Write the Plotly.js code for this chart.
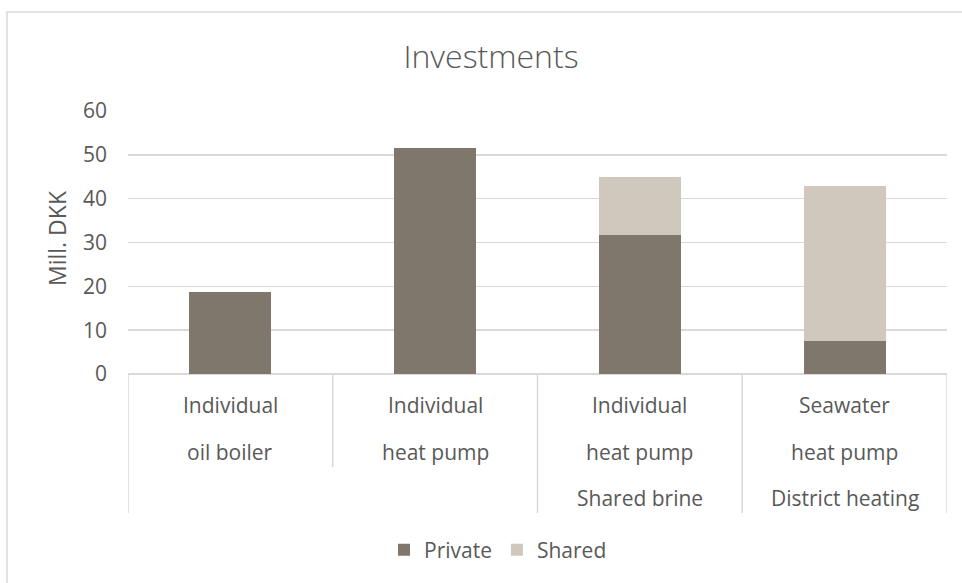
<!DOCTYPE html>
<html>
<head>
<meta charset="utf-8">
<script src="https://cdn.plot.ly/plotly-3.0.1.min.js"></script>
<style>
  html, body { margin: 0; padding: 0; background: #ffffff; }
  #chart { width: 962px; height: 583px; }
</style>
</head>
<body>
<div id="chart"></div>
<script>
// Investment per heating option (million DKK), split into private and shared parts
const categories = ["Individual oil boiler", "Individual heat pump", "Individual heat pump, shared brine", "Seawater heat pump, district heating"];
const privateValues = [18.6, 51.5, 31.7, 7.5];
const sharedValues = [0, 0, 13.3, 35.4];

// Category label rows: inner level (two lines) and outer group level
const labelLine1 = ["Individual", "Individual", "Individual", "Seawater"];
const labelLine2 = ["oil boiler", "heat pump", "heat pump", "heat pump"];
const groupLabels = ["", "", "Shared brine", "District heating"];

const yTicks = [0, 10, 20, 30, 40, 50, 60];

const textColor = "#595959";
const gridColor = "#d9d9d9";
const fontFamily = "'Open Sans', 'Noto Sans', sans-serif";

// plot area geometry (pixels) used to place the decorations below the axis
const W = 962, H = 583;
const M = { l: 128, r: 15, t: 111, b: 209 };
const plotH = H - M.t - M.b;
const plotW = W - M.l - M.r;
const py = px => (H - M.b - px) / plotH;   // pixel row -> paper y
const pxX = px => (px - M.l) / plotW;      // pixel column -> paper x

const traces = [
  {
    type: "bar",
    name: "Private",
    x: categories,
    y: privateValues,
    marker: { color: "#7f776c", line: { width: 0 } },
    hoverinfo: "y+name"
  },
  {
    type: "bar",
    name: "Shared",
    x: categories,
    y: sharedValues,
    marker: { color: "#d0c8bc", line: { width: 0 } },
    hoverinfo: "y+name"
  }
];

const annotations = [];
const lineRows = [
  { texts: labelLine1, y: 405 },
  { texts: labelLine2, y: 452 },
  { texts: groupLabels, y: 498 }
];
lineRows.forEach(row => {
  row.texts.forEach((t, i) => {
    if (!t) return;
    annotations.push({
      xref: "x", yref: "paper",
      x: categories[i], y: py(row.y),
      text: t, showarrow: false,
      xanchor: "center", yanchor: "middle",
      font: { family: fontFamily, size: 21, color: textColor }
    });
  });
});

// y axis title
annotations.push({
  xref: "paper", yref: "paper",
  x: pxX(57), y: py(238),
  text: "Mill. DKK", showarrow: false, textangle: -90,
  xanchor: "center", yanchor: "middle",
  font: { family: fontFamily, size: 23, color: textColor }
});

// category separators: short line inside the first group, full-height lines at group edges
const shapes = [];
const boundaries = [
  { x: -0.5, bottom: 513 },
  { x: 0.5, bottom: 467 },
  { x: 1.5, bottom: 513 },
  { x: 2.5, bottom: 513 },
  { x: 3.5, bottom: 513 }
];
boundaries.forEach(b => {
  shapes.push({
    type: "line", xref: "x", yref: "paper",
    x0: b.x, x1: b.x, y0: 0, y1: py(b.bottom),
    line: { color: gridColor, width: 1.5 }
  });
});

// chart frame
shapes.push({
  type: "rect", xref: "paper", yref: "paper",
  x0: pxX(7), x1: pxX(975), y0: py(592), y1: py(12),
  line: { color: gridColor, width: 1.5 },
  fillcolor: "rgba(0,0,0,0)", layer: "below"
});

const layout = {
  width: W, height: H,
  margin: M,
  paper_bgcolor: "#ffffff",
  plot_bgcolor: "#ffffff",
  barmode: "stack",
  bargap: 0.6,
  showlegend: true,
  title: {
    text: "Investments",
    xref: "container", x: 491 / W, xanchor: "center",
    yref: "container", y: 1 - 57 / H, yanchor: "middle",
    font: { family: fontFamily, size: 32, color: textColor, weight: 300 }
  },
  xaxis: {
    type: "category",
    range: [-0.5, 3.5],
    showticklabels: false,
    showgrid: false,
    zeroline: false,
    showline: false,
    ticks: ""
  },
  yaxis: {
    range: [0, 60],
    tickvals: yTicks,
    ticktext: yTicks.map(String),
    showgrid: true,
    gridcolor: gridColor,
    gridwidth: 1.5,
    zeroline: true,
    zerolinecolor: gridColor,
    zerolinewidth: 1.5,
    showline: false,
    ticks: "",
    ticklabelstandoff: 20,
    tickfont: { family: fontFamily, size: 21, color: textColor }
  },
  legend: {
    orientation: "h",
    xref: "paper", yref: "paper",
    x: pxX(498), xanchor: "center",
    y: py(550), yanchor: "middle",
    font: { family: fontFamily, size: 21, color: textColor },
    itemwidth: 30,
    traceorder: "normal",
    bgcolor: "rgba(0,0,0,0)"
  },
  annotations: annotations,
  shapes: shapes
};

Plotly.newPlot("chart", traces, layout, { displayModeBar: false, staticPlot: true });
</script>
</body>
</html>
